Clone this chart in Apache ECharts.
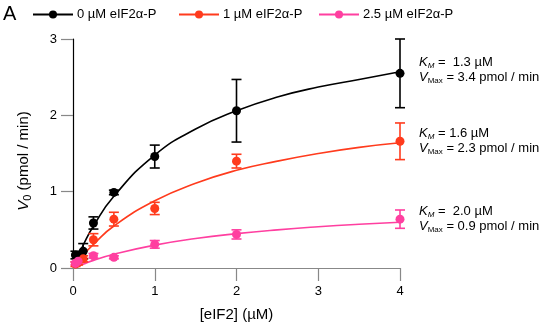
<!DOCTYPE html>
<html><head><meta charset="utf-8">
<script src="https://cdn.jsdelivr.net/npm/echarts@6/dist/echarts.min.js"></script>
<style>html,body{margin:0;padding:0;background:#fff}#c{width:545px;height:327px}</style>
</head><body><div id="c"></div>
<script>
const seriesNames = ['0 µM eIF2α-P', '1 µM eIF2α-P', '2.5 µM eIF2α-P'];
const colors = ['#000000', '#ff3b1d', '#ff3fa0'];
// measured points [eIF2 µM, V0, SEM]
const pts0 = [[0.03,0.17,0.05],[0.0625,0.15,0.05],[0.125,0.22,0.1],[0.25,0.59,0.08],[0.5,0.99,0.03],[1,1.46,0.15],[2,2.06,0.41],[4,2.55,0.45]];
const pts1 = [[0.03,0.05,0.03],[0.0625,0.07,0.03],[0.125,0.12,0.04],[0.25,0.37,0.08],[0.5,0.64,0.09],[1,0.78,0.08],[2,1.40,0.09],[4,1.66,0.24]];
const pts2 = [[0.03,0.06,0.02],[0.0625,0.09,0.02],[0.25,0.16,0.03],[0.5,0.14,0.02],[1,0.31,0.05],[2,0.44,0.06],[4,0.64,0.12]];
// fitted curves
const fit0 = [[0.03,0.08],[0.125,0.30],[0.25,0.55],[0.5,0.94],[1,1.48],[1.5,1.82],[2,2.06],[2.5,2.24],[3,2.37],[3.5,2.47],[4,2.57]];
const fit1 = [[0.03,0.04],[0.125,0.17],[0.25,0.31],[0.5,0.55],[1,0.88],[1.5,1.11],[2,1.28],[2.5,1.40],[3,1.50],[3.5,1.58],[4,1.64]];
const fit2 = [[0.03,0.013],[0.125,0.05],[0.25,0.10],[0.5,0.18],[1,0.30],[1.5,0.386],[2,0.45],[2.5,0.50],[3,0.54],[3.5,0.573],[4,0.60]];
const kmLabels = ['1.3', '1.6', '2.0'];
const vmaxLabels = ['3.4', '2.3', '0.9'];
const xTicks = [0, 1, 2, 3, 4];
const yTicks = [0, 1, 2, 3];

const FONT = 'Liberation Sans, Arial, sans-serif';
const chart = echarts.init(document.getElementById('c'));
const allPts = [pts0, pts1, pts2];
const allFits = [fit0, fit1, fit2];

function errRender(color){
  return function(params, api){
    const x = api.value(0), y = api.value(1), e = api.value(2);
    const top = api.coord([x, y + e]);
    const bot = api.coord([x, y - e]);
    const hw = 5;
    const st = {stroke: color, lineWidth: 1.6};
    return {type:'group', children:[
      {type:'line', shape:{x1:top[0], y1:top[1], x2:bot[0], y2:bot[1]}, style:st},
      {type:'line', shape:{x1:top[0]-hw, y1:top[1], x2:top[0]+hw, y2:top[1]}, style:st},
      {type:'line', shape:{x1:bot[0]-hw, y1:bot[1], x2:bot[0]+hw, y2:bot[1]}, style:st}
    ]};
  };
}

const series = [];
for (let i = 0; i < 3; i++) {
  series.push({type:'line', name: seriesNames[i], data: allFits[i], smooth: true, showSymbol:false,
    symbol:'circle', symbolSize:9, lineStyle:{color: colors[i], width:1.6}, itemStyle:{color: colors[i]}, z: 2});
  series.push({type:'custom', name: seriesNames[i], data: allPts[i], renderItem: errRender(colors[i]), z: 3,
    encode:{x:0, y:1}});
  series.push({type:'scatter', name: seriesNames[i], data: allPts[i].map(p=>[p[0],p[1]]), symbol:'circle', symbolSize:9,
    itemStyle:{color: colors[i], opacity:1}, z: 4});
}

const annY = [65, 136, 214];
const graphic = [
  {type:'text', left: 3, top: 4, style:{text:'A', font:'20px ' + FONT, fill:'#000'}},
  {type:'text', x: 24, y: 161, rotation: Math.PI/2, style:{
    text:'{i|V}{s|0}{t| (pmol / min)}', align:'center', verticalAlign:'middle',
    rich:{
      i:{fontStyle:'italic', fontSize:15, fontFamily:FONT, fill:'#000'},
      s:{fontSize:11, fontFamily:FONT, fill:'#000', padding:[7,0,0,0]},
      t:{fontSize:15, fontFamily:FONT, fill:'#000'}
    }}}
];
for (let i = 0; i < 3; i++) {
  graphic.push({type:'text', left: 419, top: annY[i]-9, style:{
    text: '{i|K}{si|M}{t| = ' + (i===1?'':' ') + kmLabels[i] + ' µM}\n{i|V}{s|Max}{t| = ' + vmaxLabels[i] + ' pmol / min}',
    rich: {
      i:{fontStyle:'italic', fontSize:13, fontFamily:FONT, fill:'#000', lineHeight:15},
      si:{fontStyle:'italic', fontSize:8, fontFamily:FONT, fill:'#000', lineHeight:15, verticalAlign:'bottom', padding:[6,0,0,0]},
      s:{fontSize:8, fontFamily:FONT, fill:'#000', lineHeight:15, verticalAlign:'bottom', padding:[6,0,0,0]},
      t:{fontSize:13, fontFamily:FONT, fill:'#000', lineHeight:15}
    }
  }});
}

const legendBase = {top: 8, padding: 0, itemGap: 0, itemWidth: 40, itemHeight: 10,
  textStyle:{fontSize:13, fontFamily:FONT, color:'#000', padding:[0,0,0,-1]}};
const legendLefts = [32, 178, 318];

chart.setOption({
  animation:false,
  grid:{left:73, right:145, top:39, bottom:57},
  legend: legendLefts.map((l, i) => Object.assign({}, legendBase, {left: l, data:[seriesNames[i]]})),
  xAxis:{type:'value', min:0, max:4, interval:1,
    axisLine:{lineStyle:{color:'#888', width:1.2}},
    axisTick:{length:13, lineStyle:{color:'#888', width:1.2}},
    axisLabel:{fontSize:13, fontFamily:FONT, color:'#000', margin:17},
    splitLine:{show:false},
    name:'[eIF2] (µM)', nameLocation:'middle', nameGap:39,
    nameTextStyle:{fontSize:15, fontFamily:FONT, color:'#000'}},
  yAxis:{type:'value', min:0, max:3, interval:1,
    axisLine:{show:true, lineStyle:{color:'#000', width:1.2}},
    axisTick:{show:true, length:12, lineStyle:{color:'#888', width:1.2}},
    axisLabel:{fontSize:13, fontFamily:FONT, color:'#000', margin:16},
    splitLine:{show:false}},
  graphic: graphic,
  series: series
});
</script></body></html>
